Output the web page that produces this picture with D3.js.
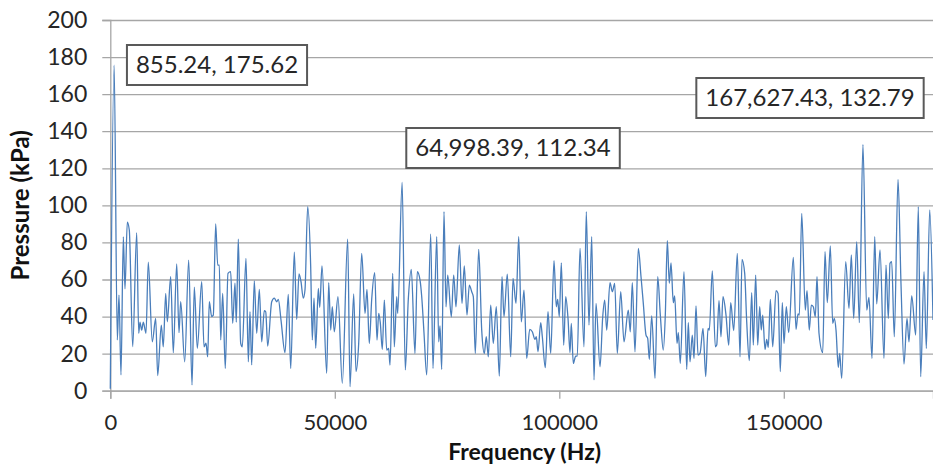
<!DOCTYPE html>
<html>
<head>
<meta charset="utf-8">
<script src="https://cdn.jsdelivr.net/npm/d3@7"></script>
<style>
  html, body { margin: 0; padding: 0; background: #fff; }
  text { font-family: Lato, "Open Sans", sans-serif; }
</style>
</head>
<body>
<div id="chart"></div>
<script>
// frequency of each point in kHz
const frequencyKHz = [
  0, 0.85524, 1.56, 1.94, 2.38, 2.90, 3.27, 3.79, 4.23, 4.99, 5.88, 6.33, 6.61, 6.99, 7.35, 7.95, 8.46, 9.35, 10.11, 10.56,
  11.36, 11.80, 12.34, 12.70, 13.45, 14.03, 14.79, 15.30, 15.68, 16.57, 17.46, 18.20, 18.71, 19.38, 20.36, 20.87, 21.31, 21.69,
  22.05, 22.58, 22.94, 23.47, 23.92, 24.28, 24.59, 25.03, 25.61, 26.21, 26.81, 27.26, 27.77, 28.06, 28.51, 29.04, 29.40, 30.22,
  30.74, 31.11, 31.49, 32.07, 32.61, 33.19, 33.72, 34.30, 34.61, 35.06, 35.95, 36.53, 37.06, 37.42, 38.02, 38.91, 39.64, 40.18,
  40.98, 41.51, 42.03, 42.47, 42.98, 43.36, 43.96, 44.63, 44.99, 45.37, 45.75, 46.33,
  46.64, 47.15, 48.20, 48.64, 49.09, 49.44, 49.89, 50.71, 51.67, 52.87, 53.39, 54.21, 54.72, 55.32, 55.99, 56.73, 57.17, 57.68,
  58.22, 58.89, 59.40, 59.78, 60.13, 60.58, 61.03, 61.56, 62.00, 62.29, 62.90, 63.25, 63.79, 64.01, 64.99839, 65.70, 66.37,
  67.04, 67.86, 68.37, 68.98,
  69.36, 69.87, 70.47, 71.36, 71.87, 72.70, 73.14, 73.43, 73.81, 74.32, 74.77, 75.15, 75.95, 76.48, 76.99, 77.73, 78.33, 78.84,
  79.44, 79.96, 80.49, 80.85, 81.29, 82.05, 82.72, 83.30, 83.74, 84.19, 84.72, 85.30, 85.97, 86.64, 87.24, 87.68, 88.42, 89.18,
  89.69, 90.36, 90.96, 91.54, 92.14,
  92.74, 93.41, 93.99, 94.59, 94.88, 95.26, 95.86, 96.22, 96.88, 97.48, 98.09, 98.82, 99.33, 99.64, 100.00, 100.45, 100.98,
  101.43, 101.94, 102.39, 102.67, 103.12, 103.65, 104.01, 104.61, 105.50, 106.01, 106.61, 107.22, 107.73, 108.18, 109.07,
  109.67, 110.11, 110.56, 111.29, 111.81, 112.34, 112.92, 113.68, 114.41,
  115.37, 115.81, 116.26, 116.86, 117.60, 118.20, 118.71, 119.31, 119.69, 120.05, 120.58, 121.32, 121.92, 122.50, 123.16,
  123.61, 124.06, 124.50, 124.88, 125.39, 125.70, 126.22, 126.51, 126.95, 127.77, 128.38, 128.73, 129.11, 129.62, 130.00,
  130.45, 130.89, 131.34, 132.01, 132.61, 133.12, 133.41, 134.08, 134.75, 135.06, 135.57, 136.01, 136.46, 137.13, 137.73,
  138.18, 138.85, 139.65, 140.25, 140.69, 141.29, 141.74, 142.32, 142.85, 143.21, 143.74, 144.19, 144.63, 144.99, 145.30,
  145.82, 146.19, 146.55, 147.00, 147.53, 148.27, 148.71, 149.22, 149.67, 150.05, 150.56, 151.09, 152.12, 152.72, 153.17,
  153.46, 153.99, 154.79, 155.17, 155.68, 156.13, 156.57, 157.02, 157.40, 157.84, 158.67, 159.18, 159.69, 160.36,
  160.89, 161.25, 161.63, 162.14, 162.45, 162.90, 163.79, 164.52, 165.04, 165.57, 166.24, 166.82, 167.62743, 168.47, 168.97,
  169.65, 170.25, 170.69, 171.43, 172.32, 172.76, 173.28, 173.65, 174.03, 174.61, 175.44, 176.11, 176.77, 177.44, 177.88,
  178.49, 179.38, 179.96, 180.49, 181.23, 181.74, 182.50, 183.23
];

// pressure in kPa at each of those frequencies
const pressureKPa = [
  1, 175.62, 27.4, 51.6, 8.5, 83, 55, 91, 86.7, 23.7, 85.2, 31, 37, 32.7, 37, 31, 69.3, 26.4, 39, 8.2,
  35.4, 23.7, 52.5, 37.2, 61.5, 20.5, 68.4, 31.3, 48, 15.6, 70.5, 3.1, 55.8, 22.9, 58.8, 23.7, 25.6, 18.3,
  48, 40, 40.8, 90, 67.8, 67.8, 27.4, 52.5, 12, 63.3, 64.2, 36.4, 58, 37, 81.7, 25.6, 23.7, 71.4,
  15.6, 42.6, 13.9, 59.3, 31, 54.7, 26.4, 43.2, 42.6, 24.1, 48, 49.9, 48, 49.3, 38.1, 20.5, 52, 12,
  74.7, 38.5, 63, 58.8, 49.9, 54.3, 99.3, 66.9, 27.4, 49.9, 22.9, 55.2,
  45, 67.3, 9.4, 58.3, 32.7, 45.3, 31.8, 50.7, 4, 81.7, 2.2, 52.2, 10.3, 25.5, 74.1, 41.7, 54.7, 25.5,
  49.3, 63.7, 27.3, 41.7, 36.7, 22.3, 48.9, 21.9, 22.8, 13.8, 63.3, 23.7, 50.7, 41.7, 112.34, 11.2, 49.3,
  65.5, 20.1, 64.2, 59.7,
  50.7, 31, 8.5, 84.5, 12, 83.1, 26.4, 34.9, 11.5, 96.6, 45.3, 62.4, 39.9, 62.4, 45.3, 78.6, 47.1, 67.3,
  40.8, 57, 53.4, 50.7, 20.1, 76.3, 32.7, 20.1, 29.1, 18.3, 46.2, 25.5, 45.3, 7.9, 61.5, 39.9, 62.9, 18.3,
  60.6, 47.1, 83.1, 37.2, 54.3,
  17.4, 33.1, 31.8, 27.7, 29.1, 21, 36.7, 29.1, 12.4, 42.6, 20.1, 70.1, 45.3, 49.3, 39.9, 69, 24.6,
  50.7, 39, 20.5, 36.3, 14.7, 18.7, 18.7, 76.8, 23.7, 96.6, 35.4, 83.1, 5.8, 47.1, 12.9,
  39.9, 48.9, 32.7, 58.3, 53.4, 57.9, 20.1, 53.4, 26.4,
  43.5, 31.8, 58.3, 21, 76.8, 61.5, 47.1, 30, 28.2, 16.9, 40.3, 6.7, 61.5, 40.8, 21.9,
  40.8, 80.9, 57.9, 69, 47.5, 51.1, 25.5, 31.3, 14.7, 64.2, 11.5, 36.7, 15.6, 30, 17.4,
  45.7, 19.2, 20.1, 33.6, 7.6, 33.6, 32.7, 64.7, 23.7, 24.6, 48.6, 29.1, 50.7, 40.8, 24.6,
  47.5, 32.4, 74.1, 18.3, 70.9, 63.3, 37.2, 16.2, 52.9, 24.6, 62.4, 24.6, 45.3, 32.7, 40.8,
  22.3, 27.7, 23.4, 49.3, 23.7, 54, 52.5, 10.3, 47.5, 25.5, 45.3, 31.3, 71.9, 33.1, 41.4,
  40.8, 95.7, 43.5, 54, 32.7, 46.2, 45.3, 39.9, 61.5, 31, 20.5, 75, 47.5, 78.1,
  36.3, 39, 32.7, 12.6, 20.1, 6.7, 69.6, 44.4, 73.2, 39, 80.4, 36.7, 132.79, 43.5, 50.4,
  17.4, 83.1, 46.8, 75.9, 17.4, 67.8, 39, 68.7, 69.6, 29.1, 114, 57, 14.4, 39, 26.4,
  51.1, 30, 99.3, 7.6, 64.2, 22.8, 97.5, 38.1
];

// labelled peaks
const peakFrequencies = [855.24, 64998.39, 167627.43];
const peakPressures = [175.62, 112.34, 132.79];

// axis ticks
const xTicks = [0, 50000, 100000, 150000];
const yTicks = [0, 20, 40, 60, 80, 100, 120, 140, 160, 180, 200];
const xMaxHz = 183230;

// where the label boxes sit (centre, in pixels)
const labelBoxCentres = [[217, 65], [513, 148], [810, 98]];

if (frequencyKHz.length !== pressureKPa.length) console.warn("length mismatch", frequencyKHz.length, pressureKPa.length);

const data = frequencyKHz.map((f, i) => ({ freq: f * 1000, value: pressureKPa[i] }));

// set the dimensions and margins of the graph
const outerWidth = 933, outerHeight = 468;
const margin = { top: 20, right: 0, bottom: 77.3, left: 110.3 },
    width = outerWidth - margin.left - margin.right,
    height = outerHeight - margin.top - margin.bottom;

const svg = d3.select("#chart")
    .append("svg")
    .attr("width", outerWidth)
    .attr("height", outerHeight)
    .append("g")
    .attr("transform", `translate(${margin.left}, ${margin.top})`);

const x = d3.scaleLinear().domain([0, xMaxHz]).range([0, width]);
const y = d3.scaleLinear().domain([0, 200]).range([height, 0]);

const gridColor = "#a6a6a6";

// y axis with gridlines
const yAxis = svg.append("g")
    .call(d3.axisLeft(y).tickValues(yTicks).tickSize(8).tickPadding(15));
yAxis.select(".domain").attr("stroke", gridColor).attr("stroke-width", 1.3);
yAxis.selectAll(".tick line")
    .attr("x2", width)
    .attr("x1", -8)
    .attr("stroke", gridColor)
    .attr("stroke-width", 1.3);
yAxis.selectAll(".tick text")
    .style("font-size", "23px")
    .attr("fill", "#262626");

// x axis
const xAxis = svg.append("g")
    .attr("transform", `translate(0, ${height})`)
    .call(d3.axisBottom(x).tickValues(xTicks).tickFormat(d3.format("d")).tickSize(8).tickPadding(16));
xAxis.select(".domain").attr("stroke", gridColor).attr("stroke-width", 1.3);
xAxis.selectAll(".tick line").attr("stroke", gridColor).attr("stroke-width", 1.3);
xAxis.selectAll(".tick text")
    .style("font-size", "22px")
    .attr("fill", "#262626");

// the series line
const line = d3.line()
    .x(d => x(d.freq))
    .y(d => y(d.value))
    .curve(d3.curveMonotoneX);

svg.append("path")
    .datum(data)
    .attr("fill", "none")
    .attr("stroke", "#4a7ebb")
    .attr("stroke-width", 1.3)
    .attr("d", line);

// axis titles
svg.append("text")
    .attr("x", width / 2 + 3)
    .attr("y", 460 - margin.top)
    .attr("text-anchor", "middle")
    .style("font-size", "23px")
    .style("font-weight", "bold")
    .attr("fill", "#111")
    .text("Frequency (Hz)");

svg.append("text")
    .attr("transform", `translate(${29 - margin.left}, ${height / 2}) rotate(-90)`)
    .attr("text-anchor", "middle")
    .style("font-size", "24px")
    .style("font-weight", "bold")
    .attr("fill", "#111")
    .text("Pressure (kPa)");

// peak labels
const fmt = d3.format(",.2f");
peakFrequencies.forEach((f, i) => {
    const [cx, cy] = labelBoxCentres[i];
    const g = svg.append("g").attr("transform", `translate(${cx - margin.left}, ${cy - margin.top})`);
    const box = g.append("rect")
        .attr("fill", "#fff")
        .attr("stroke", "#595959")
        .attr("stroke-width", 2);
    const t = g.append("text")
        .attr("text-anchor", "middle")
        .attr("dy", "0.35em")
        .style("font-size", "24px")
        .attr("fill", "#262626")
        .text(fmt(f) + ", " + fmt(peakPressures[i]));
    const bb = t.node().getBBox();
    box.attr("x", bb.x - 9).attr("y", -20).attr("width", bb.width + 18).attr("height", 40);
});
</script>
</body>
</html>
